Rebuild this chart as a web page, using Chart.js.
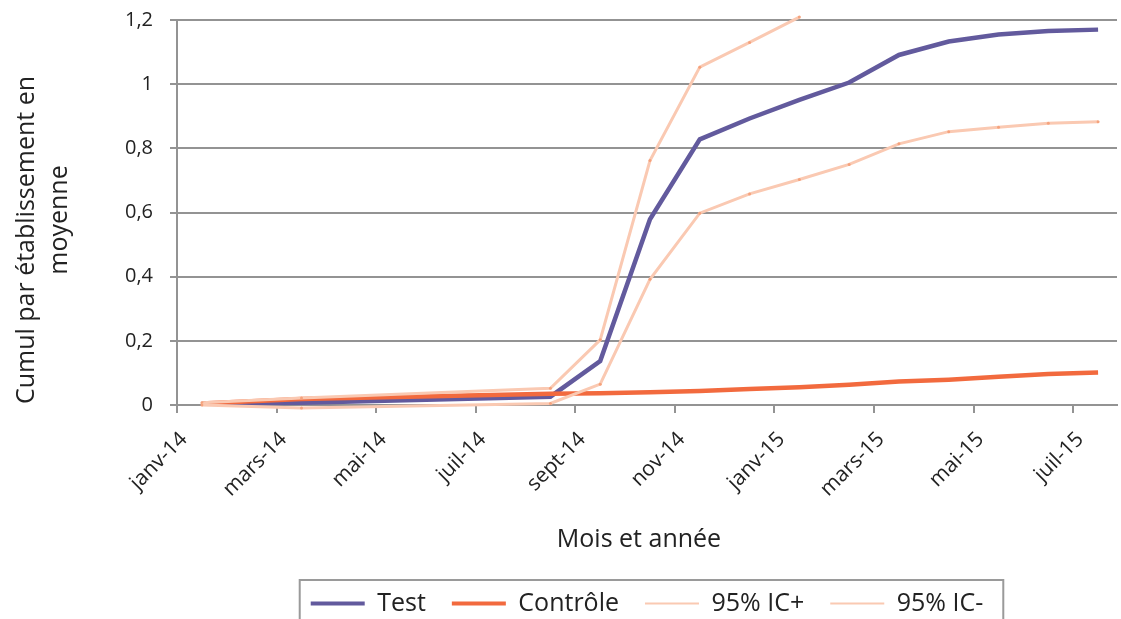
<!DOCTYPE html>
<html>
<head>
<meta charset="utf-8">
<script src="https://cdn.jsdelivr.net/npm/chart.js@4/dist/chart.umd.min.js"></script>
<style>
  html, body { margin: 0; padding: 0; background: #fff; overflow: hidden; }
  #wrap { width: 1121px; height: 626px; }
</style>
</head>
<body>
<div id="wrap"><canvas id="c" width="1121" height="626"></canvas></div>
<script>
// mois (décalage depuis janv-14) des points mesurés
const moisIndex = [0, 2, 7, 8, 9, 10, 11, 12, 13, 14, 15, 16, 17, 18]
const tickLabels = ['janv-14', 'mars-14', 'mai-14', 'juil-14', 'sept-14', 'nov-14', 'janv-15', 'mars-15', 'mai-15', 'juil-15']

const test = [0.005, 0.007, 0.026, 0.137, 0.579, 0.828, 0.893, 0.951, 1.005, 1.091, 1.133, 1.155, 1.166, 1.170]
const controle = [0.005, 0.019, 0.035, 0.037, 0.040, 0.044, 0.050, 0.055, 0.063, 0.073, 0.079, 0.088, 0.097, 0.101]
const icPlus = [0.007, 0.022, 0.052, 0.203, 0.762, 1.053, 1.130, 1.209, null, null, null, null, null, null]
const icMoins = [0.0, -0.009, 0.005, 0.065, 0.392, 0.598, 0.658, 0.703, 0.750, 0.814, 0.852, 0.866, 0.878, 0.883]

const titreX = 'Mois et année'
const titreY = ['Cumul par établissement en', 'moyenne']

const GRIS = '#939393'
const TEXTE = '#222'
const PALE = '#fac9b2'
const FONT = '"Open Sans", "Noto Sans", sans-serif'

// épaisseur des traits dans la légende
const legendWidths = [4, 4, 2, 2]

function pts (vals) {
  return vals.map((v, i) => ({ x: moisIndex[i] + 0.5, y: v }))
}

const decor = {
  id: 'decor',
  afterDraw (chart) {
    const ctx = chart.ctx
    ctx.save()
    ctx.fillStyle = TEXTE
    ctx.font = '25px ' + FONT
    ctx.textAlign = 'center'
    ctx.textBaseline = 'alphabetic'
    ctx.fillText(titreX, 639, 547)

    ctx.save()
    ctx.translate(34, 240)
    ctx.rotate(-Math.PI / 2)
    ctx.fillText(titreY[0], 0, 0)
    ctx.restore()
    ctx.save()
    ctx.translate(67, 220)
    ctx.rotate(-Math.PI / 2)
    ctx.fillText(titreY[1], 0, 0)
    ctx.restore()

    // cadre de la légende
    const boxes = chart.legend.legendHitBoxes
    if (boxes && boxes.length) {
      const first = boxes[0]
      const last = boxes[boxes.length - 1]
      const left = first.left - 11
      ctx.strokeStyle = '#9a9a9a'
      ctx.lineWidth = 2
      ctx.strokeRect(left, first.top - 11, last.left + last.width + 20 - left, 80)
    }
    ctx.restore()
  }
}

const ctx = document.getElementById('c').getContext('2d')

const chart = new Chart(ctx, {
  type: 'line',
  data: {
    datasets: [
      {
        label: 'Test',
        data: pts(test),
        borderColor: '#625a9d',
        backgroundColor: '#625a9d',
        borderWidth: 4.5,
        pointRadius: 0,
        order: 4,
        clip: 8
      },
      {
        label: 'Contrôle',
        data: pts(controle),
        borderColor: '#f26a3e',
        backgroundColor: '#f26a3e',
        borderWidth: 4.5,
        pointRadius: 0,
        order: 3,
        clip: 8
      },
      {
        label: '95% IC+',
        data: pts(icPlus),
        borderColor: PALE,
        backgroundColor: PALE,
        borderWidth: 3,
        pointRadius: 1.5,
        pointBorderWidth: 0,
        pointBackgroundColor: '#f5a27c',
        order: 2,
        clip: 8
      },
      {
        label: '95% IC-',
        data: pts(icMoins),
        borderColor: PALE,
        backgroundColor: PALE,
        borderWidth: 3,
        pointRadius: 1.5,
        pointBorderWidth: 0,
        pointBackgroundColor: '#f5a27c',
        order: 1,
        clip: 8
      }
    ]
  },
  options: {
    responsive: false,
    animation: false,
    spanGaps: true,
    layout: { padding: { top: 20, left: 0, right: 0, bottom: 0 } },
    plugins: {
      tooltip: { enabled: false },
      title: { display: false },
      legend: {
        position: 'bottom',
        fullSize: false,
        labels: {
          usePointStyle: true,
          pointStyle: 'line',
          pointStyleWidth: 54,
          padding: 26,
          color: TEXTE,
          font: { family: FONT, size: 25 },
          sort: (a, b) => a.datasetIndex - b.datasetIndex,
          generateLabels: (chart) => Chart.defaults.plugins.legend.labels.generateLabels(chart).map(l => {
            l.lineWidth = legendWidths[l.datasetIndex]
            l.strokeStyle = chart.data.datasets[l.datasetIndex].borderColor
            return l
          })
        }
      }
    },
    scales: {
      x: {
        type: 'linear',
        min: 0,
        max: 18.88,
        afterFit: (s) => { s.height = 160 },
        border: { color: GRIS, width: 2 },
        grid: { drawOnChartArea: false, drawTicks: true, tickLength: 8, color: GRIS, lineWidth: 2 },
        ticks: {
          stepSize: 2,
          includeBounds: false,
          minRotation: 45,
          maxRotation: 45,
          padding: 14,
          labelOffset: 7,
          color: TEXTE,
          font: { family: FONT, size: 21 },
          callback: (v) => tickLabels[v / 2]
        }
      },
      y: {
        min: 0,
        max: 1.2,
        afterFit: (s) => {
          s.width = 177
          s.paddingTop = 0
          s.paddingBottom = 0
        },
        border: { color: GRIS, width: 2 },
        grid: { color: GRIS, lineWidth: 2, tickLength: 7 },
        ticks: {
          stepSize: 0.2,
          padding: 17,
          color: TEXTE,
          font: { family: FONT, size: 20 },
          callback: (v) => String(Math.round(v * 10) / 10).replace('.', ',')
        }
      }
    }
  },
  plugins: [decor]
})
</script>
</body>
</html>
